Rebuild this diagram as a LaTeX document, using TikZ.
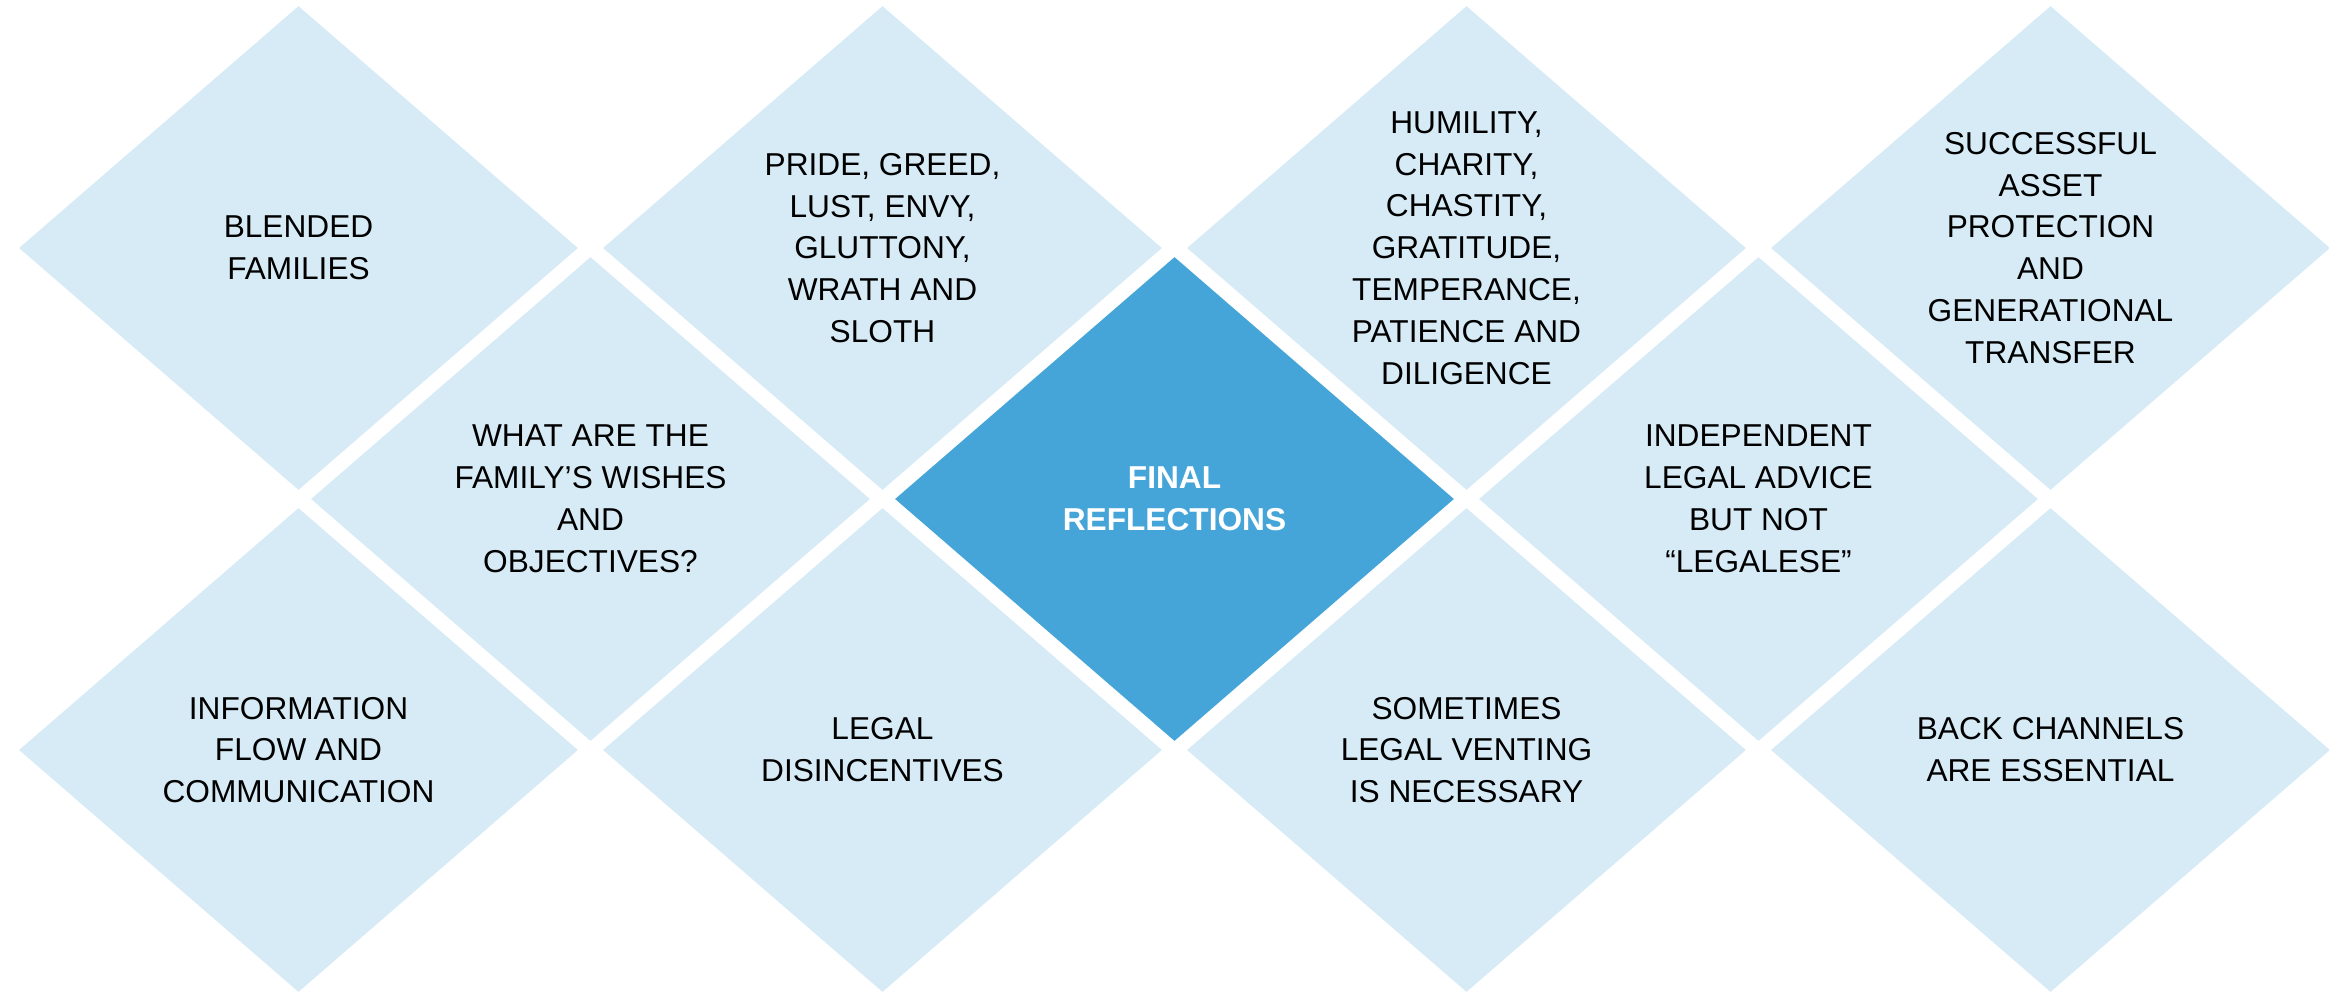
\documentclass[tikz,border=0pt]{standalone}
\usepackage{fontspec}
\setmainfont{Liberation Sans}
\usetikzlibrary{shapes.geometric}
\definecolor{tilelight}{RGB}{214,235,246}
\definecolor{tiledark}{RGB}{69,165,216}

\begin{document}
\begin{tikzpicture}[x=0.01cm, y=-0.01cm,
    tile/.style={diamond, fill=tilelight, minimum width=5.59cm, minimum height=4.84cm, inner sep=0pt},
    txt/.style={align=center, font=\fontsize{9}{11.9}\selectfont}]
    \useasboundingbox (0,0) rectangle (2329,993);

    % top row
    \node[tile] (blended) at (298.5,248) {};
    \node[txt] (tblended) at (blended) {BLENDED\\FAMILIES};
    \node[tile] (sins) at (882.5,248) {};
    \node[txt] (tsins) at (sins) {PRIDE, GREED,\\LUST, ENVY,\\GLUTTONY,\\WRATH AND\\SLOTH};
    \node[tile] (virtues) at (1466.5,248) {};
    \node[txt] (tvirtues) at (virtues) {HUMILITY,\\CHARITY,\\CHASTITY,\\GRATITUDE,\\TEMPERANCE,\\PATIENCE AND\\DILIGENCE};
    \node[tile] (transfer) at (2050.5,248) {};
    \node[txt] (ttransfer) at (transfer) {SUCCESSFUL\\ASSET\\PROTECTION\\AND\\GENERATIONAL\\TRANSFER};

    % middle row
    \node[tile] (wishes) at (590.5,499) {};
    \node[txt] (twishes) at (wishes) {WHAT ARE THE\\FAMILY’S WISHES\\AND\\OBJECTIVES?};
    \node[tile, fill=tiledark] (final) at (1174.5,499) {};
    \node[txt, font=\fontsize{9}{11.9}\selectfont\bfseries, text=white] (tfinal) at (final) {FINAL\\REFLECTIONS};
    \node[tile] (advice) at (1758.5,499) {};
    \node[txt] (tadvice) at (advice) {INDEPENDENT\\LEGAL ADVICE\\BUT NOT\\“LEGALESE”};

    % bottom row
    \node[tile] (info) at (298.5,750) {};
    \node[txt] (tinfo) at (info) {INFORMATION\\FLOW AND\\COMMUNICATION};
    \node[tile] (disinc) at (882.5,750) {};
    \node[txt] (tdisinc) at (disinc) {LEGAL\\DISINCENTIVES};
    \node[tile] (venting) at (1466.5,750) {};
    \node[txt] (tventing) at (venting) {SOMETIMES\\LEGAL VENTING\\IS NECESSARY};
    \node[tile] (channels) at (2050.5,750) {};
    \node[txt] (tchannels) at (channels) {BACK CHANNELS\\ARE ESSENTIAL};
\end{tikzpicture}
\end{document}
